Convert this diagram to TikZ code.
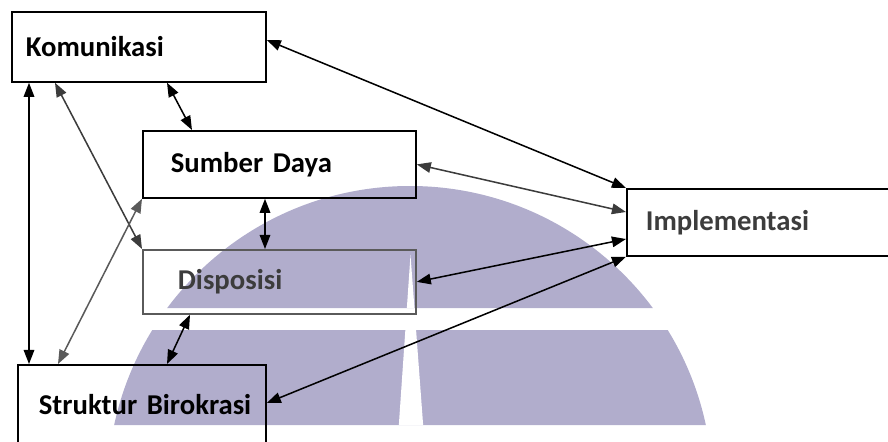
\documentclass[tikz,border=0pt]{standalone}
\usepackage{fontspec}
\setmainfont{Carlito}
\usetikzlibrary{arrows.meta,calc}

\definecolor{logoungu}{RGB}{177,173,204}
\definecolor{abugelap}{RGB}{90,90,90}
\definecolor{abutua}{RGB}{60,60,60}

\tikzset{
  kotak/.style={draw=black, line width=1.5pt, anchor=north west, inner sep=0pt,
    align=left, font=\fontsize{24.5}{29}\selectfont\bfseries},
  panah/.style={<->, >={Triangle[length=12pt,width=9pt]}, line width=1.3pt},
}

\begin{document}
\begin{tikzpicture}[x=0.03cm, y=-0.03cm]
        \useasboundingbox (0,0) rectangle (888,441);
        \clip (0,0) rectangle (888,441);

        % logo di belakang
        \begin{scope}
          \clip (0,186) rectangle (888,308) (0,330) rectangle (888,425);
          \fill[logoungu] (410,488.5) circle[radius=9.075cm];
          \fill[white] (410.5,255) -- (398.5,430) -- (423.5,430) -- cycle;
        \end{scope}

        \node[kotak, minimum height=2.1cm, text width=7.62cm] (kom) at (11,11) {\hspace*{0.42cm}Komunikasi};
        \node[kotak, minimum height=2.01cm, text width=8.19cm] (sum) at (142,130) {\hspace*{0.84cm}Sumber Daya};
        \node[kotak, draw=abugelap, text=abutua, minimum height=1.92cm, text width=8.19cm] (dis) at (142,249) {\hspace*{1.05cm}Disposisi};
        \node[kotak, minimum height=2.4cm, text width=7.44cm] (str) at (17,364) {\hspace*{0.63cm}Struktur Birokrasi};
        \node[kotak, text=abutua, minimum height=2.01cm, text width=9cm] (imp) at (626,188) {\hspace*{0.57cm}Implementasi};

        \draw[panah] ($(kom.south west)+(18,0)$) -- ($(str.north west)+(12,0)$);
        \draw[panah, abutua] ($(kom.south west)+(44,0)$) -- (dis.north west);
        \draw[panah, abugelap] ($(str.north west)+(41,0)$) -- (sum.south west);
        \draw[panah] ($(kom.south west)+(156,0)$) -- ($(sum.north west)+(50,0)$);
        \draw[panah] ($(sum.south west)+(123,0)$) -- ($(dis.north west)+(123,0)$);
        \draw[panah] ($(dis.south west)+(48,0)$) -- ($(str.north west)+(150,0)$);

        \draw[panah] ($(kom.north east)+(0,29)$) -- (imp.north west);
        \draw[panah, abutua] (sum.east) -- ($(imp.north west)+(0,24)$);
        \draw[panah] (dis.east) -- ($(imp.north west)+(0,51)$);
        \draw[panah] ($(str.north east)+(0,39)$) -- (imp.south west);
\end{tikzpicture}
\end{document}
